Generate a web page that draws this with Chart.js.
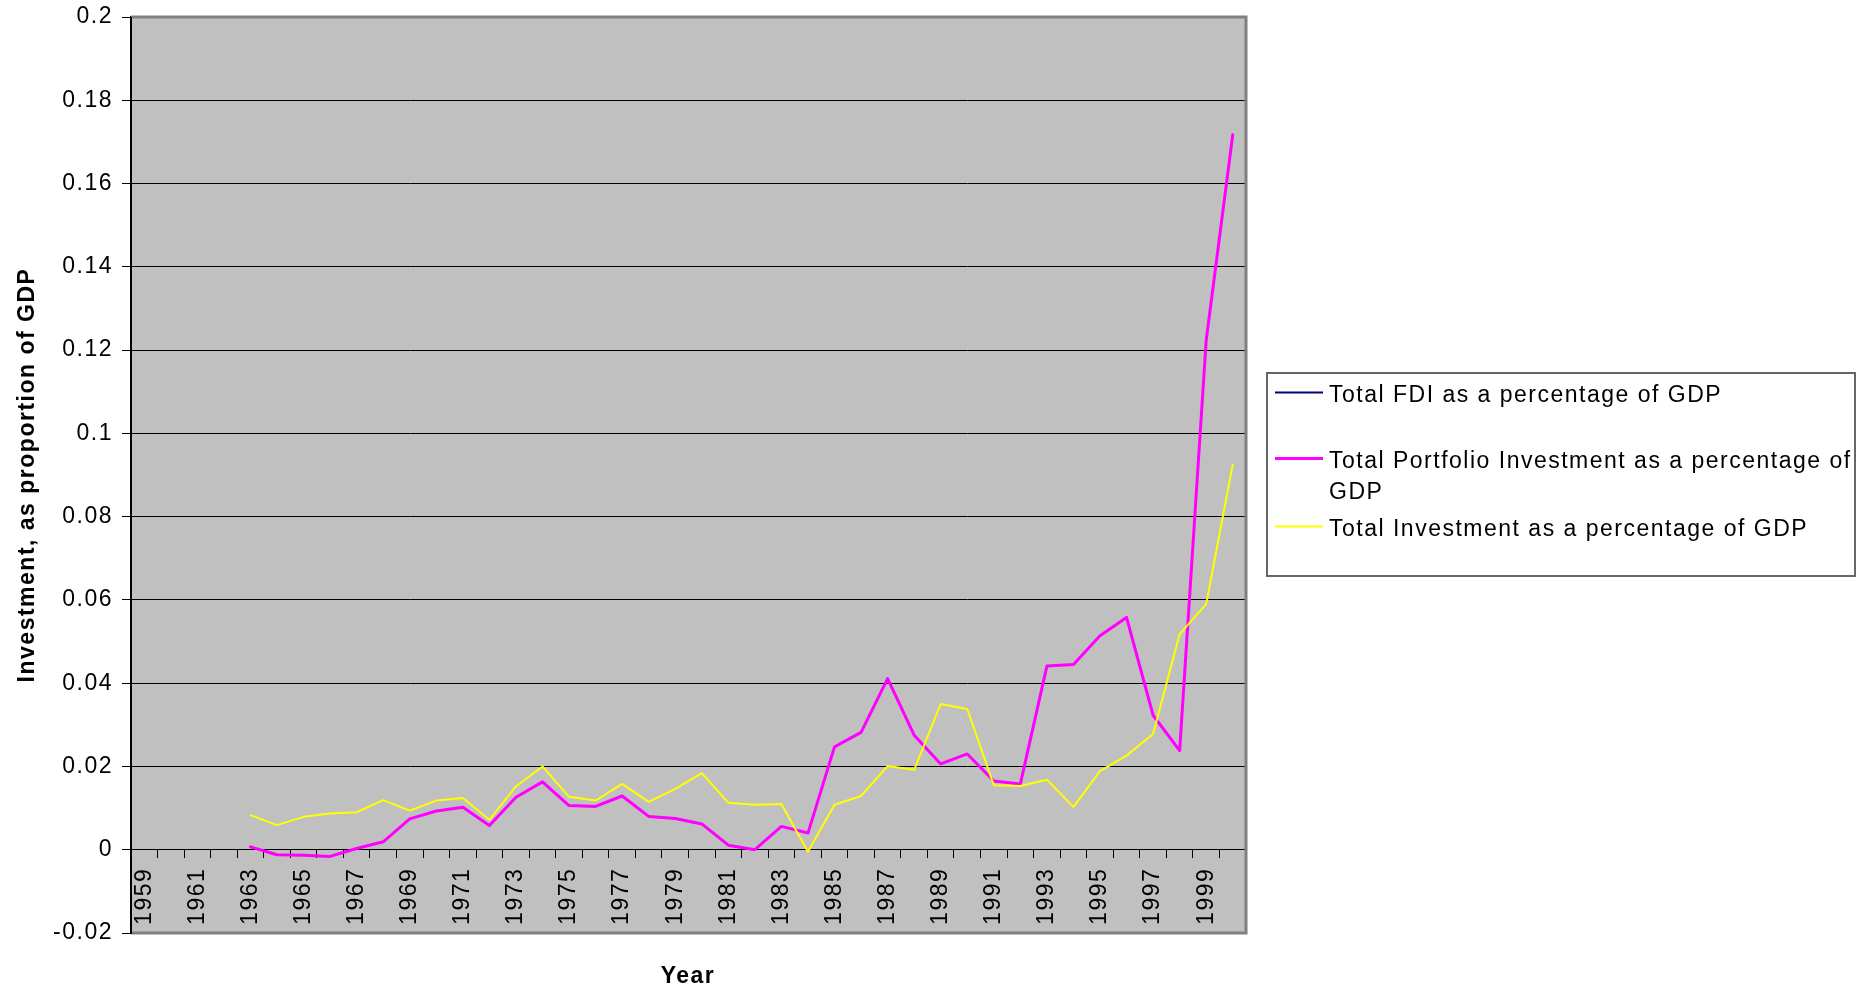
<!DOCTYPE html>
<html>
<head>
<meta charset="utf-8">
<title>Investment as proportion of GDP, 1959-2000</title>
<style>
  html, body { margin: 0; padding: 0; background: #ffffff; }
  canvas { display: block; }
</style>
<script src="https://cdn.jsdelivr.net/npm/chart.js@4.4.1/dist/chart.umd.min.js"></script>
</head>
<body>
<canvas id="chart" width="1867" height="991"></canvas>
<script>
// Years on the category axis (every other one is labelled)
const years = [
  '1959', '1960', '1961', '1962', '1963', '1964', '1965', '1966', '1967', '1968',
  '1969', '1970', '1971', '1972', '1973', '1974', '1975', '1976', '1977', '1978',
  '1979', '1980', '1981', '1982', '1983', '1984', '1985', '1986', '1987', '1988',
  '1989', '1990', '1991', '1992', '1993', '1994', '1995', '1996', '1997', '1998',
  '1999', '2000'
];

const seriesNames = [
  'Total FDI as a percentage of GDP',
  'Total Portfolio Investment as a percentage of GDP',
  'Total Investment as a percentage of GDP'
];

// No FDI observations are plotted; the series only appears in the legend
const fdiShare = [];

const portfolioShare = [
  null, null, null, null,
  0.0007, -0.0012, -0.0013, -0.0016, 0.0003, 0.0019, 0.0074, 0.0093, 0.0102, 0.0058,
  0.0126, 0.0163, 0.0106, 0.0104, 0.0129, 0.0080, 0.0075, 0.0062, 0.0011, 0.0000,
  0.0056, 0.0040, 0.0247, 0.0282, 0.0411, 0.0275, 0.0206, 0.0230, 0.0165, 0.0158,
  0.0441, 0.0445, 0.0514, 0.0558, 0.0323, 0.0238, 0.1223, 0.1717
];

const totalShare = [
  null, null, null, null,
  0.0083, 0.0059, 0.0079, 0.0087, 0.0090, 0.0119, 0.0094, 0.0118, 0.0124, 0.0072,
  0.0152, 0.0200, 0.0127, 0.0118, 0.0158, 0.0115, 0.0146, 0.0184, 0.0113, 0.0108,
  0.0110, -0.0005, 0.0108, 0.0129, 0.0201, 0.0192, 0.0350, 0.0338, 0.0155, 0.0153,
  0.0168, 0.0103, 0.0189, 0.0226, 0.0278, 0.0518, 0.0590, 0.0925
];

// Value axis range and step
const yMin = -0.02;
const yMax = 0.2;
const yStep = 0.02;

const seriesColors = ['#000080', '#ff00ff', '#ffff00'];
const seriesWidths = [2, 3, 2];

const FONT = "'Liberation Sans', Arial, Helvetica, sans-serif";
const TEXT_SIZE = 23;
const TRACKING = '1.5px';

// Keep the plot area exactly where the layout padding puts it
function clearScalePadding(scale) {
  scale.paddingTop = 0;
  scale.paddingBottom = 0;
  scale.paddingLeft = 0;
  scale.paddingRight = 0;
}

// Plot background, frame, legend and axis titles
const chartDecor = {
  id: 'chartDecor',
  beforeDraw(chart) {
    const { ctx, chartArea: a } = chart;
    ctx.save();
    ctx.fillStyle = '#ffffff';
    ctx.fillRect(0, 0, chart.width, chart.height);
    ctx.fillStyle = '#c0c0c0';
    ctx.fillRect(a.left, a.top, a.right - a.left, a.bottom - a.top);
    ctx.restore();
    // slightly wider text for all labels drawn afterwards
    ctx.letterSpacing = TRACKING;
  },
  afterDatasetsDraw(chart) {
    const { ctx, chartArea: a } = chart;
    ctx.save();
    ctx.strokeStyle = '#808080';
    ctx.lineWidth = 3;
    ctx.beginPath();
    ctx.moveTo(a.left, a.top);
    ctx.lineTo(a.right, a.top);
    ctx.lineTo(a.right, a.bottom);
    ctx.lineTo(a.left, a.bottom);
    ctx.stroke();
    ctx.strokeStyle = '#000000';
    ctx.lineWidth = 2;
    ctx.beginPath();
    ctx.moveTo(a.left, a.top);
    ctx.lineTo(a.left, a.bottom + 1);
    ctx.stroke();
    ctx.restore();
  },
  afterDraw(chart) {
    const { ctx } = chart;
    ctx.save();
    ctx.letterSpacing = TRACKING;
    ctx.fillStyle = '#000000';

    // axis titles
    ctx.font = `bold ${TEXT_SIZE}px ${FONT}`;
    ctx.textAlign = 'center';
    ctx.textBaseline = 'alphabetic';
    ctx.fillText('Year', 688, 983);

    ctx.save();
    ctx.translate(34, 475);
    ctx.rotate(-Math.PI / 2);
    ctx.fillText('Investment, as proportion of GDP', 0, 0);
    ctx.restore();

    // legend box
    const box = { left: 1267, top: 373, right: 1855, bottom: 576 };
    ctx.fillStyle = '#ffffff';
    ctx.fillRect(box.left, box.top, box.right - box.left, box.bottom - box.top);
    ctx.strokeStyle = '#666666';
    ctx.lineWidth = 2;
    ctx.strokeRect(box.left, box.top, box.right - box.left, box.bottom - box.top);

    ctx.font = `${TEXT_SIZE}px ${FONT}`;
    ctx.textAlign = 'left';
    ctx.fillStyle = '#000000';
    const textX = 1329;
    const maxTextWidth = box.right - textX + 2;
    const baselines = [402, 468, 536];
    const lineGap = 30.5;

    chart.data.datasets.forEach((ds, i) => {
      const base = baselines[i];
      ctx.strokeStyle = ds.borderColor;
      ctx.lineWidth = ds.borderWidth;
      ctx.beginPath();
      ctx.moveTo(1275, base - 9.5);
      ctx.lineTo(1323, base - 9.5);
      ctx.stroke();

      // wrap the label inside the legend box
      const words = ds.label.split(' ');
      const lines = [];
      let current = '';
      words.forEach(w => {
        const trial = current ? current + ' ' + w : w;
        if (current && ctx.measureText(trial).width > maxTextWidth) {
          lines.push(current);
          current = w;
        } else {
          current = trial;
        }
      });
      if (current) lines.push(current);
      lines.forEach((ln, k) => ctx.fillText(ln, textX, base + k * lineGap));
    });
    ctx.restore();
  }
};

new Chart(document.getElementById('chart'), {
  type: 'line',
  data: {
    labels: years,
    datasets: [
      { label: seriesNames[0], data: fdiShare, borderColor: seriesColors[0], borderWidth: seriesWidths[0], order: 2 },
      { label: seriesNames[1], data: portfolioShare, borderColor: seriesColors[1], borderWidth: seriesWidths[1], order: 1 },
      { label: seriesNames[2], data: totalShare, borderColor: seriesColors[2], borderWidth: seriesWidths[2], order: 0 }
    ]
  },
  options: {
    responsive: false,
    animation: false,
    devicePixelRatio: 1,
    events: [],
    layout: { padding: { left: 0, top: 17, right: 621, bottom: 58 } },
    elements: {
      point: { radius: 0, hoverRadius: 0 },
      line: { tension: 0, fill: false, borderJoinStyle: 'round', borderCapStyle: 'round' }
    },
    plugins: {
      legend: { display: false },
      tooltip: { enabled: false },
      title: { display: false }
    },
    scales: {
      x: {
        type: 'category',
        position: { y: 0 },
        offset: true,
        afterFit: clearScalePadding,
        grid: {
          offset: true,
          drawOnChartArea: false,
          drawTicks: true,
          tickLength: 8,
          color: '#000000'
        },
        border: { display: true, color: '#000000', width: 1 },
        ticks: {
          autoSkip: false,
          minRotation: 90,
          maxRotation: 90,
          padding: 10,
          color: '#000000',
          font: { family: FONT, size: TEXT_SIZE },
          callback(value, index) {
            return index % 2 === 0 ? this.getLabelForValue(value) : '';
          }
        }
      },
      y: {
        min: yMin,
        max: yMax,
        afterFit(scale) {
          scale.width = 131;
          clearScalePadding(scale);
        },
        grid: { color: '#000000', lineWidth: 1, drawTicks: true, tickLength: 9, tickColor: '#000000' },
        border: { display: true, color: '#000000', width: 2 },
        ticks: {
          stepSize: yStep,
          padding: 9,
          color: '#000000',
          font: { family: FONT, size: TEXT_SIZE },
          callback: v => String(Number(v.toFixed(2)))
        }
      }
    }
  },
  plugins: [chartDecor]
});
</script>
</body>
</html>
